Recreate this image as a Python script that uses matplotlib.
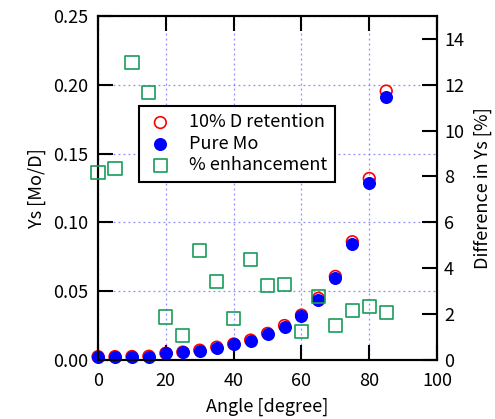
import matplotlib
matplotlib.use('Agg')
import matplotlib.pyplot as plt

plt.rcParams['font.family'] = ['Noto Sans CJK JP', 'DejaVu Sans']

angle = [0, 5, 10, 15, 20, 25, 30, 35, 40, 45, 50, 55, 60, 65, 70, 75, 80, 85]
pure_mo = [0.0022, 0.0022, 0.0022, 0.0024, 0.0048, 0.0056, 0.0068, 0.0090, 0.0114,
           0.0138, 0.0187, 0.0242, 0.0322, 0.0436, 0.0598, 0.0841, 0.1289, 0.1914]
d_retention = [0.0024, 0.0024, 0.0025, 0.0027, 0.0049, 0.0057, 0.0071, 0.0093, 0.0116,
               0.0144, 0.0193, 0.0250, 0.0326, 0.0448, 0.0607, 0.0859, 0.1319, 0.1954]
enhancement = [8.19, 8.36, 12.98, 11.66, 1.87, 1.08, 4.78, 3.43, 1.82,
               4.38, 3.24, 3.28, 1.25, 2.76, 1.50, 2.14, 2.33, 2.08]

fig = plt.figure(figsize=(4.95, 4.19), dpi=100)
ax1 = fig.add_axes([0.198, 0.141, 0.685, 0.821])
ax2 = ax1.twinx()

# left axis: Ys values
r = ax1.scatter(angle, d_retention, s=70, facecolors='none', edgecolors='#ff0000',
                linewidths=1.2, label='10% D retention', zorder=3, clip_on=False)
b = ax1.scatter(angle, pure_mo, s=70, color='#0000ff', label='Pure Mo', zorder=4,
                clip_on=False)

# right axis: enhancement
g = ax2.scatter(angle, enhancement, s=90, marker='s', facecolors='none',
                edgecolors='#1a9c5a', linewidths=1.2, label='% enhancement', zorder=5,
                clip_on=False)

ax1.set_xlim(0, 100)
ax1.set_ylim(0, 0.25)
ax2.set_ylim(0, 15)
ax1.set_xticks([0, 20, 40, 60, 80, 100])
ax1.set_yticks([0, 0.05, 0.10, 0.15, 0.20, 0.25])
ax1.set_yticklabels(['0.00', '0.05', '0.10', '0.15', '0.20', '0.25'])
ax2.set_yticks([0, 2, 4, 6, 8, 10, 12, 14])

ax1.grid(True, color='#8c8cff', linestyle=(0, (1.5, 2.5)), linewidth=0.9)
ax1.set_axisbelow(True)

ax1.tick_params(axis='both', direction='in', length=11, width=1.5, labelsize=13,
                top=True)
ax1.tick_params(axis='x', pad=9)
ax1.tick_params(axis='y', right=False, pad=7)
ax2.tick_params(axis='y', direction='in', length=11, width=1.5, labelsize=13, pad=5)

for ax in (ax1, ax2):
    for sp in ax.spines.values():
        sp.set_linewidth(1.5)

ax1.set_xlabel('Angle [degree]', fontsize=13, labelpad=5)
ax1.set_ylabel('Ys [Mo/D]', fontsize=13, labelpad=5)
ax2.set_ylabel('Difference in Ys [%]', fontsize=13, labelpad=7)

leg = ax2.legend(handles=[r, b, g], loc='upper left', bbox_to_anchor=(0.12, 0.738),
                 borderaxespad=0, fontsize=13, frameon=True, fancybox=False,
                 edgecolor='black', framealpha=1, handletextpad=0.8, borderpad=0.4,
                 labelspacing=0.2, handlelength=1.6)
leg.get_frame().set_linewidth(1.5)

fig.savefig('out.png', dpi=100)
